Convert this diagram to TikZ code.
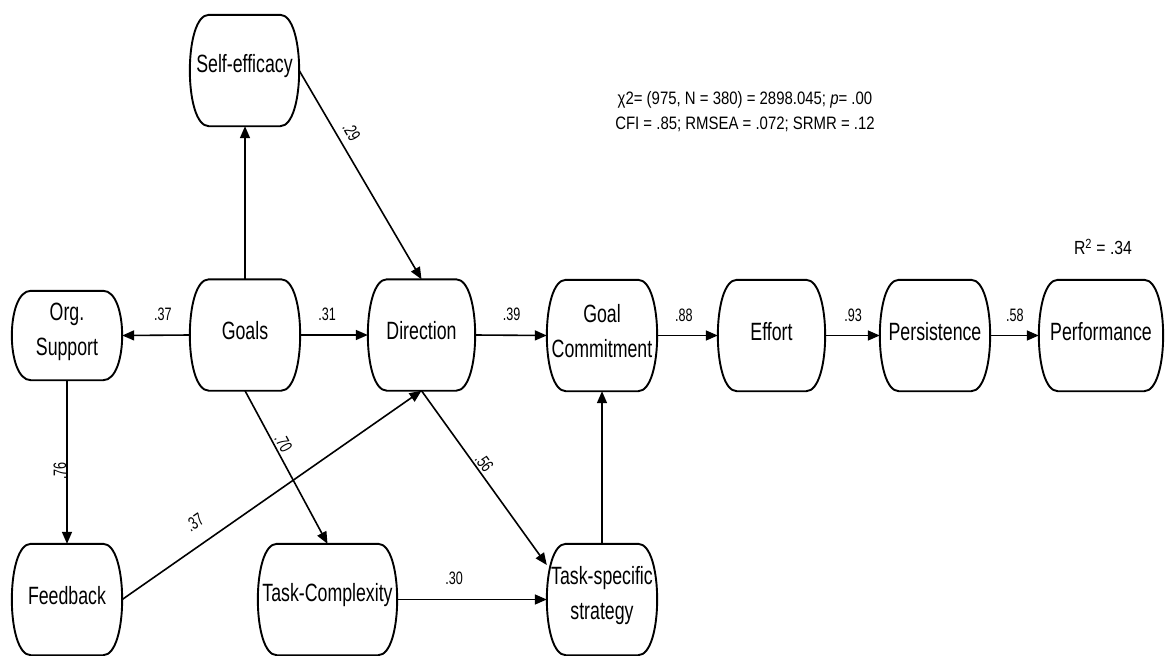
\documentclass[tikz,border=0pt]{standalone}
\usepackage{fontspec}
\setmainfont{Liberation Sans}
\newfontfamily\nodefont[FakeStretch=0.71]{Liberation Sans}
\newfontfamily\lblfont[FakeStretch=0.70]{Liberation Sans}
\newfontfamily\statfont[FakeStretch=0.83]{Liberation Sans}
\usetikzlibrary{arrows.meta,calc}

\tikzset{
  blob/.style={minimum width=#1, minimum height=111pt, inner sep=0pt},
  blob/.default=110pt,
  ctext/.style={label={[nametext]center:#1}},
  nametext/.style={align=center, inner sep=0pt, yshift=4pt,
    font=\nodefont\fontsize{25}{35}\selectfont},
  outline/.style={line width=1.9pt, line join=round},
  arr/.style={line width=1.6pt, -{Triangle[length=12pt,width=10pt]}},
  lbl/.style={font=\lblfont\fontsize{18}{20}\selectfont, inner sep=0pt},
  stat/.style={font=\statfont\fontsize{18}{25}\selectfont, align=center, inner sep=0pt}
}

% box with straight top/bottom and bulging sides
\newcommand\drawblob[1]{%
  \draw[outline] let \p1=(#1.north west), \p2=(#1.south east) in
    (\x1+19pt,\y1) -- (\x2-19pt,\y1)
    .. controls (\x2+6.3pt,\y1) and (\x2+6.3pt,\y2) .. (\x2-19pt,\y2)
    -- (\x1+19pt,\y2)
    .. controls (\x1-6.3pt,\y2) and (\x1-6.3pt,\y1) .. (\x1+19pt,\y1) -- cycle;}

\begin{document}
\begin{tikzpicture}[x=1pt,y=-1pt]
\useasboundingbox (0,0) rectangle (1165,656);

% constructs
\node[blob=109pt, ctext={Self-efficacy}]   (se)    at (244.5,70.5) {};
\node[blob, ctext={Goals}]                 (goals) at (245,335)    {};
\node[blob, minimum height=89pt, ctext={Org.\\Support}] (org) at (67,335.5) {};
\node[blob=107pt, ctext={Direction}]       (dir)   at (421.5,335)  {};
\node[blob, ctext={Goal\\Commitment}]      (gc)    at (602,335.5)  {};
\node[blob=107pt, ctext={Effort}]          (eff)   at (771.5,335.5) {};
\node[blob, ctext={Persistence}]           (pers)  at (935,335.5)  {};
\node[blob=124pt, ctext={Performance}]     (perf)  at (1101,335.5) {};
\node[blob, ctext={Feedback}]              (fb)    at (67,599.5)   {};
\node[blob=139pt, ctext={Task-Complexity}] (tc)    at (327.5,599.5) {};
\node[blob, ctext={Task-specific\\strategy}] (tss) at (602,599.5)  {};

\foreach \nm in {se,goals,org,dir,gc,eff,pers,perf,fb,tc,tss}{\drawblob{\nm}}

% fit statistics
\node[stat] (fit) at (745,112) {χ2= (975, N = 380) = 2898.045; \textit{p}= .00\\CFI = .85; RMSEA = .072; SRMR = .12};
\node[stat, font=\statfont\fontsize{19}{22}\selectfont] (rsq) at (1103,247) {R\textsuperscript{2} = .34};

% paths
\draw[arr] (goals.north) -- (goals.north |- se.south);
\draw[arr] (se.east) -- (dir.north) node[lbl, sloped, pos=0.33, above=6.8pt] {.29};
\draw[arr] (goals.west) -- (org.east) node[lbl, pos=0.4, above=13.5pt] {.37};
\draw[arr] (goals.east) -- (dir.west) node[lbl, pos=0.4, above=13.5pt] {.31};
\draw[arr] (dir.east) -- (gc.west) node[lbl, pos=0.51, above=13.5pt] {.39};
\draw[arr] (gc.east) -- (eff.west) node[lbl, pos=0.44, above=13.5pt] {.88};
\draw[arr] (eff.east) -- (pers.west) node[lbl, pos=0.51, above=13.5pt] {.93};
\draw[arr] (pers.east) -- (perf.west) node[lbl, pos=0.51, above=13.5pt] {.58};
\draw[arr] (org.south) -- (fb.north);
\path (fb.north) -- (org.south) node[lbl, sloped, pos=0.445, above=0.5pt] {.76};
\draw[arr] (goals.south) -- (tc.north) node[lbl, sloped, pos=0.37, above=2pt] {.70};
\draw[arr] (fb.east) -- (dir.south) node[lbl, sloped, pos=0.283, above=14.4pt] {.37};
\draw[arr] (dir.south) -- (tss.148) node[lbl, sloped, pos=0.444, above=1.7pt] {.56};
\draw[arr] (tc.east) -- (tss.west) node[lbl, pos=0.38, above=14.5pt] {.30};
\draw[arr] (tss.north) -- (gc.south);
\end{tikzpicture}
\end{document}
